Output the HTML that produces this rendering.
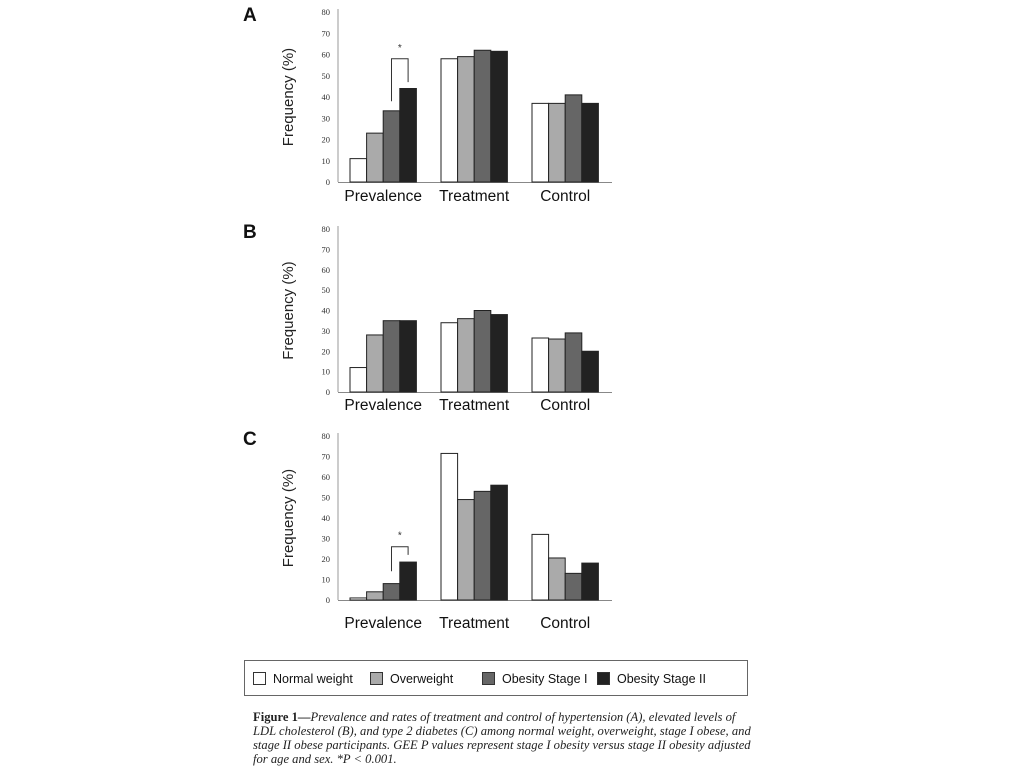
<!DOCTYPE html>
<html><head><meta charset="utf-8">
<style>
html,body{margin:0;padding:0;background:#fff;}
body{width:1024px;height:767px;position:relative;overflow:hidden;font-family:"Liberation Sans",sans-serif;}
.legend{position:absolute;left:244px;top:660px;width:504px;height:36px;border:1.5px solid #666;box-sizing:border-box;font-size:12.5px;color:#111;}
.li{position:absolute;top:10px;height:16px;line-height:16px;white-space:nowrap;}
.sw{display:inline-block;width:13px;height:13px;border:1px solid #333;vertical-align:-2px;margin-right:7px;box-sizing:border-box;}
.caption{position:absolute;left:253px;top:710px;font-family:"Liberation Serif",serif;font-size:12.6px;line-height:14px;color:#222;font-style:italic;white-space:nowrap;}
.caption b{font-style:normal;}
</style></head><body>
<svg id="chart" width="1024" height="660" style="position:absolute;left:0;top:0"></svg>
<div class="legend">
 <span class="li" style="left:8px"><span class="sw" style="background:#fff"></span>Normal weight</span>
 <span class="li" style="left:125px"><span class="sw" style="background:#aaa"></span>Overweight</span>
 <span class="li" style="left:237px"><span class="sw" style="background:#666"></span>Obesity Stage I</span>
 <span class="li" style="left:352px"><span class="sw" style="background:#222"></span>Obesity Stage II</span>
</div>
<div class="caption"><b>Figure 1—</b>Prevalence and rates of treatment and control of hypertension (A), elevated levels of<br>LDL cholesterol (B), and type 2 diabetes (C) among normal weight, overweight, stage I obese, and<br>stage II obese participants. GEE P values represent stage I obesity versus stage II obesity adjusted<br>for age and sex. *P &lt; 0.001.</div>
<script>
const categories = ["Prevalence","Treatment","Control"];
const seriesNames = ["Normal weight","Overweight","Obesity Stage I","Obesity Stage II"];
const ticks = [0,10,20,30,40,50,60,70,80];
const panelA = [[11,23,33.5,44],[58,59,62,61.5],[37,37,41,37]];
const panelB = [[12,28,35,35],[34,36,40,38],[26.5,26,29,20]];
const panelC = [[1,4,8,18.5],[71.5,49,53,56],[32,20.5,13,18]];
const colors = ["#fff","#aaa","#666","#222"];
const NS="http://www.w3.org/2000/svg";
const svg=document.getElementById('chart');
function mk(t,a,p){const e=document.createElementNS(NS,t);for(const k in a)e.setAttribute(k,a[k]);(p||svg).appendChild(e);return e;}
const groupX=[350,441,532], barW=16.6;
function panel(letter,data,y0,y80,labelY,sig){
  const g=mk('g',{});
  
  
  const ys=v=>y0-(v/80)*(y0-y80);
  const L=mk('text',{x:243,y:y80+9,'font-size':19,'font-weight':'bold',fill:'#111'},g);L.textContent=letter;
  
  const ax=mk('line',{x1:338,y1:y80-3,x2:338,y2:y0,stroke:'#999','stroke-width':1},g);
  
  const bx=mk('line',{x1:338,y1:y0+.5,x2:612,y2:y0+.5,stroke:'#888','stroke-width':1},g);
  
  ticks.forEach(t=>{const tx=mk('text',{x:330,y:ys(t)+3,'font-size':8.5,'text-anchor':'end','font-family':'Liberation Serif, serif',fill:'#333'},g);tx.textContent=t;
    });
  const yt=mk('text',{transform:`translate(293,${(y0+y80)/2}) rotate(-90)`,'font-size':15,'text-anchor':'middle',fill:'#222'},g);yt.textContent='Frequency (%)';
  
  data.forEach((grp,i)=>{
    grp.forEach((v,j)=>{const r=mk('rect',{x:groupX[i]+j*barW,y:ys(v),width:barW,height:y0-ys(v),fill:colors[j],stroke:'#222','stroke-width':1},g);
      });
    const ct=mk('text',{x:groupX[i]+2*barW,y:labelY,'font-size':15.5,'text-anchor':'middle',fill:'#111'},g);ct.textContent=categories[i];
    
  });
  if(sig){const xl=groupX[0]+2.5*barW, xr=groupX[0]+3.5*barW;
    const pl=mk('polyline',{points:`${xl},${ys(sig[0])} ${xl},${ys(sig[2])} ${xr},${ys(sig[2])} ${xr},${ys(sig[1])}`,fill:'none',stroke:'#333','stroke-width':1},g);
    
    const st=mk('text',{x:(xl+xr)/2,y:ys(sig[2])-8,'font-size':10,'text-anchor':'middle',fill:'#333'},g);st.textContent='*';
    }
}
panel('A',panelA,182,12,201,[38,47,58]);
panel('B',panelB,392,229,410,null);
panel('C',panelC,600,436,628,[14,22,26]);
</script>
</body></html>
